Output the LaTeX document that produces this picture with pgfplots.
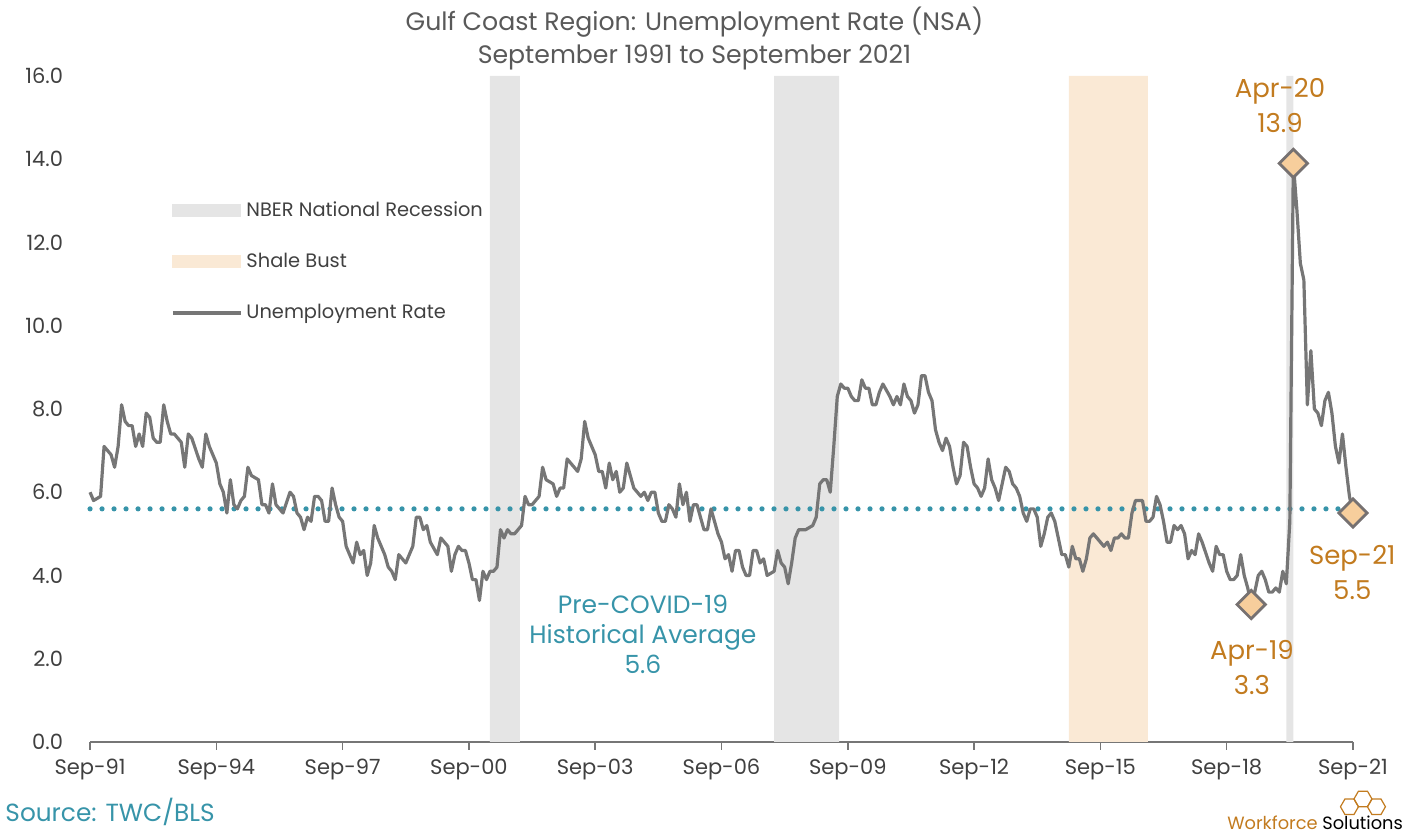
\documentclass[border=0pt]{standalone}
\usepackage{fontspec}
\setmainfont{Poppins}
\usepackage{pgfplots}
\pgfplotsset{compat=1.18}

\definecolor{linegray}{HTML}{767676}
\definecolor{recgray}{HTML}{E5E5E5}
\definecolor{shale}{HTML}{FAE9D5}
\definecolor{avgteal}{HTML}{3794A9}
\definecolor{annorange}{HTML}{C27B1F}
\definecolor{mkfill}{HTML}{F7CE9C}
\definecolor{mkdraw}{HTML}{767171}
\definecolor{ticktext}{HTML}{404040}
\definecolor{titletext}{HTML}{595959}

\begin{document}
\begin{tikzpicture}
\begin{axis}[
    width=631.5pt, height=333pt, scale only axis,
    xmin=0, xmax=360, ymin=0, ymax=16,
    axis lines*=left,
    y axis line style={draw=none},
    x axis line style={draw=linegray, line width=0.8pt},
    xtick={0,36,...,360},
    xticklabels={Sep-91,Sep-94,Sep-97,Sep-00,Sep-03,Sep-06,Sep-09,Sep-12,Sep-15,Sep-18,Sep-21},
    ytick={0,2,...,16},
    yticklabel={\pgfmathprintnumber[fixed,fixed zerofill,precision=1]{\tick}},
    /pgf/number format/assume math mode=true,
    tick align=outside,
    major tick length=4pt,
    xtick style={draw=linegray, line width=0.8pt},
    ytick style={draw=none},
    ticklabel style={text=ticktext, font=\fontsize{10.5}{12}\selectfont},
    yticklabel style={xshift=-6pt},
    xticklabel style={yshift=-1pt},
    clip=false,
    legend style={at={(rel axis cs:0.064,0.8185)}, anchor=north west, draw=none, fill=none,
        font=\fontsize{9.7}{12}\selectfont, text=ticktext, row sep=13pt,
        inner xsep=0pt, inner ysep=0pt},
    legend cell align=left,
]
% recession and shale bands
\addplot[fill=recgray, draw=none, forget plot] coordinates {(114,0) (114,16) (122.5,16) (122.5,0)} \closedcycle;
\addplot[fill=recgray, draw=none, forget plot] coordinates {(195,0) (195,16) (213.5,16) (213.5,0)} \closedcycle;
\addplot[fill=recgray, draw=none, forget plot] coordinates {(341,0) (341,16) (343,16) (343,0)} \closedcycle;
\addplot[fill=shale, draw=none, forget plot] coordinates {(279,0) (279,16) (301.5,16) (301.5,0)} \closedcycle;

% pre-COVID average
\addplot[avgteal, line width=2.6pt, line cap=round, dash pattern=on 0pt off 6pt, forget plot]
    coordinates {(0,5.6) (360,5.6)};

\addlegendimage{legend image code/.code={\fill[recgray] (0pt,-3pt) rectangle (34pt,3pt);}}
\addlegendentry{NBER National Recession}
\addlegendimage{legend image code/.code={\fill[shale] (0pt,-3pt) rectangle (34pt,3pt);}}
\addlegendentry{Shale Bust}

% unemployment rate, month index from Sep-91
\addplot[linegray, line width=1.6pt, line join=round,
    legend image code/.code={\draw[linegray, line width=1.6pt] (0pt,0pt) -- (34pt,0pt);}] coordinates {
(0,6.0) (1,5.8) (3,5.9) (4,7.1) (6,6.9) (7,6.6) (8,7.1) (9,8.1) (10,7.7) (11,7.6)
(12,7.6) (13,7.1) (14,7.4) (15,7.1) (16,7.9) (17,7.8) (18,7.3) (19,7.2) (20,7.2) (21,8.1)
(22,7.7) (23,7.4) (24,7.4) (26,7.2) (27,6.6) (28,7.4) (29,7.3) (31,6.8) (32,6.6) (33,7.4)
(34,7.1) (36,6.7) (37,6.2) (38,6.0) (39,5.5) (40,6.3) (41,5.7) (42,5.6) (43,5.8) (44,5.9)
(45,6.6) (46,6.4) (48,6.3) (49,5.7) (50,5.7) (51,5.5) (52,6.2) (53,5.7) (54,5.6) (55,5.5)
(57,6.0) (58,5.9) (59,5.5) (60,5.4) (61,5.1) (62,5.4) (63,5.3) (64,5.9) (65,5.9) (66,5.8)
(67,5.3) (68,5.3) (69,6.1) (70,5.7) (71,5.4) (72,5.3) (73,4.7) (74,4.5) (75,4.3) (76,4.8)
(77,4.5) (78,4.6) (79,4.0) (80,4.3) (81,5.2) (82,4.9) (83,4.7) (84,4.5) (85,4.2) (86,4.1)
(87,3.9) (88,4.5) (90,4.3) (92,4.7) (93,5.4) (94,5.4) (95,5.1) (96,5.2) (97,4.8) (99,4.5)
(100,4.9) (102,4.7) (103,4.1) (104,4.5) (105,4.7) (106,4.6) (107,4.6) (108,4.3) (109,3.9) (110,3.9)
(111,3.4) (112,4.1) (113,3.9) (114,4.1) (115,4.1) (116,4.2) (117,5.1) (118,4.9) (119,5.1) (120,5.0)
(121,5.0) (122,5.1) (123,5.2) (124,5.9) (125,5.7) (126,5.7) (128,5.9) (129,6.6) (130,6.3) (132,6.2)
(133,5.9) (134,6.1) (135,6.1) (136,6.8) (137,6.7) (139,6.5) (140,6.8) (141,7.7) (142,7.3) (144,6.9)
(145,6.5) (146,6.5) (147,6.1) (148,6.7) (149,6.3) (150,6.5) (151,6.0) (152,6.1) (153,6.7) (154,6.4)
(155,6.1) (156,6.0) (157,5.9) (158,6.0) (159,5.8) (160,6.0) (161,6.0) (162,5.5) (163,5.3) (164,5.3)
(165,5.7) (166,5.6) (167,5.4) (168,6.2) (169,5.7) (170,6.0) (171,5.3) (172,5.7) (173,5.7) (174,5.4)
(175,5.1) (176,5.1) (177,5.6) (178,5.3) (179,5.0) (180,4.8) (181,4.4) (182,4.5) (183,4.1) (184,4.6)
(185,4.6) (186,4.2) (187,4.0) (188,4.0) (189,4.6) (190,4.6) (191,4.3) (192,4.4) (193,4.0) (195,4.1)
(196,4.6) (197,4.3) (198,4.2) (199,3.8) (200,4.3) (201,4.9) (202,5.1) (204,5.1) (206,5.2) (207,5.4)
(208,6.2) (209,6.3) (210,6.3) (211,6.0) (212,7.1) (213,8.3) (214,8.6) (215,8.5) (216,8.5) (217,8.3)
(218,8.2) (219,8.2) (220,8.7) (221,8.5) (222,8.5) (223,8.1) (224,8.1) (225,8.4) (226,8.6) (228,8.3)
(229,8.1) (230,8.3) (231,8.1) (232,8.6) (233,8.3) (234,8.2) (235,7.9) (236,8.1) (237,8.8) (238,8.8)
(239,8.4) (240,8.2) (241,7.5) (242,7.2) (243,7.0) (244,7.3) (245,7.1) (246,6.6) (247,6.2) (248,6.4)
(249,7.2) (250,7.1) (251,6.6) (252,6.2) (253,6.1) (254,5.9) (255,6.1) (256,6.8) (257,6.3) (258,6.1)
(259,5.8) (260,6.2) (261,6.6) (262,6.5) (263,6.2) (264,6.1) (265,5.9) (266,5.5) (267,5.3) (268,5.6)
(269,5.6) (270,5.4) (271,4.7) (272,5.0) (273,5.4) (274,5.5) (275,5.3) (276,4.9) (277,4.5) (278,4.5)
(279,4.2) (280,4.7) (281,4.4) (282,4.4) (283,4.1) (284,4.4) (285,4.9) (286,5.0) (288,4.8) (289,4.7)
(290,4.8) (291,4.6) (292,4.9) (293,4.9) (294,5.0) (295,4.9) (296,4.9) (297,5.5) (298,5.8) (300,5.8)
(301,5.3) (302,5.3) (303,5.4) (304,5.9) (305,5.7) (306,5.3) (307,4.8) (308,4.8) (309,5.2) (310,5.1)
(311,5.2) (312,5.0) (313,4.4) (314,4.6) (315,4.5) (316,5.0) (317,4.8) (319,4.3) (320,4.1) (321,4.7)
(322,4.5) (323,4.5) (324,4.1) (325,3.9) (326,3.9) (327,4.0) (328,4.5) (329,4.0) (330,3.7) (331,3.3)
(332,3.6) (333,4.0) (334,4.1) (335,3.9) (336,3.6) (337,3.6) (338,3.7) (339,3.6) (340,4.1) (341,3.8)
(342,5.3) (343,13.9) (344,12.8) (345,11.5) (346,11.1) (347,8.1) (348,9.4) (349,8.0) (350,7.9) (351,7.6)
(352,8.2) (353,8.4) (354,7.9) (355,7.1) (356,6.7) (357,7.4) (358,6.6) (359,5.9) (360,5.5)
};
\addlegendentry{Unemployment Rate}

% highlighted points
\addplot[only marks, mark=square*, mark size=5pt, mark options={rotate=45, fill=mkfill, draw=mkdraw, line width=1.4pt}, forget plot]
    coordinates {(331,3.3) (343,13.9) (360,5.5)};

% annotations
\node[text=annorange, align=center, font=\fontsize{13}{17.5}\selectfont] at (axis cs:339.2,15.28) {Apr-20\\13.9};
\node[text=annorange, align=center, font=\fontsize{13}{17.5}\selectfont] at (axis cs:331.2,1.80) {Apr-19\\3.3};
\node[text=annorange, align=center, font=\fontsize{13}{17.5}\selectfont] at (axis cs:359.8,4.08) {Sep-21\\5.5};
\node[text=avgteal, align=center, font=\fontsize{12.5}{15}\selectfont] at (axis cs:157.6,2.59) {Pre-COVID-19\\Historical Average\\5.6};

% title, source, logo
\node[text=titletext, align=center, font=\fontsize{12.6}{16.5}\selectfont] at (rel axis cs:0.4786,1.0563)
    {Gulf Coast Region: Unemployment Rate (NSA)\\September 1991 to September 2021};
\node[text=avgteal, anchor=west, inner sep=0pt, font=\fontsize{12.4}{15}\selectfont] at (rel axis cs:-0.0673,-0.105) {Source: TWC/BLS};
\node[anchor=west, inner sep=0pt, font=\fontsize{8.9}{10}\selectfont] at (rel axis cs:0.9002,-0.121)
    {\textcolor{annorange}{Workforce} \textcolor{black}{Solutions}};

\coordinate (bbsw) at (rel axis cs:-0.0713,-0.1381);
\coordinate (bbne) at (rel axis cs:1.0515,1.1141);
\coordinate (hexc) at (rel axis cs:1.0079,-0.0856);
\end{axis}
% logo hexagons
\foreach \dx/\dy in {-6.75/-3.9, 0/0, 6.75/-3.9}{
  \draw[annorange, line width=0.6pt] ([shift={(\dx pt,\dy pt)}]hexc) ++(0:4.5pt)
    -- ++(120:4.5pt) -- ++(180:4.5pt) -- ++(240:4.5pt) -- ++(300:4.5pt) -- ++(0:4.5pt) -- cycle;
}
\pgfresetboundingbox
\path[use as bounding box] (bbsw) rectangle (bbne);
\end{tikzpicture}
\end{document}
